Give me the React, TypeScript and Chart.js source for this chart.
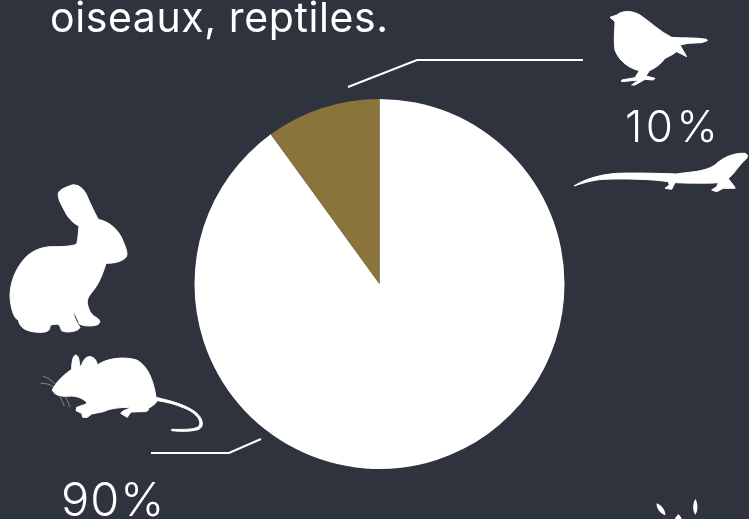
import React, { useEffect, useRef } from "react";
import { Chart, registerables } from "chart.js";

Chart.register(...registerables);

const categories = ["Mammifères", "Oiseaux, reptiles"];
const shares = [90, 10];
const sliceColors = ["#ffffff", "#8b733c"];
const heading = "oiseaux, reptiles.";
const background = "#2e333d";

const rabbit = "M175 70C180 55 205 50 215 45C235 42 250 55 260 75C270 100 285 130 295 148C325 155 355 175 370 215C378 235 385 250 378 262C365 275 345 280 318 280C312 300 300 335 285 355C270 375 258 385 263 405C268 425 275 435 290 443C302 450 303 460 290 465C270 470 250 468 238 462C232 445 225 430 220 425C222 445 232 460 240 472C235 485 200 490 185 482C180 470 178 465 175 463C160 462 150 465 150 470C150 482 140 488 115 487C85 485 60 478 55 450C40 445 32 410 30 380C30 340 45 300 70 270C90 245 120 232 150 230C180 230 215 230 230 222C235 205 235 185 237 168C220 160 205 145 195 125C185 105 172 85 175 70Z";
const mouse = "M157 660C165 640 190 615 215 598C215 580 218 555 228 555C238 558 238 580 240 590C248 585 248 565 265 560C280 558 290 570 292 585C320 565 370 558 410 570C440 585 460 625 468 682C500 690 550 700 585 725C612 745 615 775 590 780C570 785 540 785 515 782L515 778C545 778 580 780 595 770C608 755 590 730 555 715C525 702 495 695 472 692C465 705 450 712 445 715C448 722 440 726 425 725L395 726L388 732L382 742L375 738L362 730L370 722C385 718 390 712 385 712C360 712 330 715 310 725L275 732L262 742L248 742L245 730L228 722L230 712L250 705L262 700C250 685 235 680 215 678C190 680 165 680 157 660Z";
const whiskers = "M165 642C155 630 140 622 128 618M160 650C150 642 135 640 122 640M180 680C185 690 190 700 193 708M195 680C202 690 206 700 210 712";
const bird = "M150 52L170 45C185 32 215 30 240 45C270 65 300 95 335 112C370 115 410 112 440 118L442 122L425 128L385 130L360 135L380 170L350 155L335 165L315 175C300 195 285 205 268 212L258 228L285 235L280 240L255 238L225 255L215 255L235 240L185 245L185 240L225 233L238 212C205 205 175 180 165 150C160 120 165 90 165 65Z";
const lizard = "M42 558C70 540 110 525 170 520C220 518 300 520 350 522C385 515 430 518 465 495C490 470 525 458 555 460C568 465 562 475 550 485C530 505 520 525 505 535C510 545 528 562 525 565L490 565L470 575L455 570L470 560L475 548C450 550 400 550 345 548L335 568L315 565L328 555L325 545C280 538 200 535 130 538C100 540 65 550 42 558Z";
const leaves = "M110 70C125 75 137 92 136 106C122 102 108 85 110 70ZM226 57C233 68 236 90 226 104C216 90 219 68 226 57ZM175 102C181 108 184 113 185 117L164 117C166 113 170 108 175 102Z";

const FONT = "Inter, sans-serif";

const decorations = {
  id: "decorations",
  beforeDraw(chart: any) {
    const c = chart.ctx;
    c.save();
    c.fillStyle = background;
    c.fillRect(0, 0, chart.width, chart.height);
    c.restore();
  },
  afterDraw(chart: any) {
    const c = chart.ctx;
    c.save();
    c.fillStyle = "#ffffff";
    c.strokeStyle = "#ffffff";

    c.textBaseline = "alphabetic";
    c.textAlign = "left";
    c.font = `400 41px ${FONT}`;
    c.letterSpacing = "0.6px";
    c.fillText(heading, 50, 32);
    c.font = `300 44px ${FONT}`;
    c.letterSpacing = "3.5px";
    c.fillText(`${shares[1]}%`, 625, 142);
    c.font = `300 47px ${FONT}`;
    c.letterSpacing = "1px";
    c.fillText(`${shares[0]}%`, 61, 516);
    c.letterSpacing = "0px";

    c.lineWidth = 2;
    c.lineJoin = "miter";
    c.beginPath();
    c.moveTo(348, 87);
    c.lineTo(417, 60);
    c.lineTo(583, 60);
    c.stroke();
    c.beginPath();
    c.moveTo(151, 453);
    c.lineTo(229, 453);
    c.lineTo(261, 439);
    c.stroke();

    const shape = (path: string, x: number, y: number, grow: number) => {
      c.save();
      c.translate(x, y);
      c.scale(1 / 3, 1 / 3);
      const p = new Path2D(path);
      c.fill(p);
      if (grow > 0) {
        c.lineWidth = grow;
        c.lineJoin = "round";
        c.stroke(p);
      }
      c.restore();
    };
    shape(rabbit, 0, 170, 3);
    shape(mouse, 0, 170, 3);
    shape(bird, 560, 0, 3);
    shape(lizard, 560, 0, 3);
    shape(leaves, 620, 480, 0);

    c.save();
    c.translate(0, 170);
    c.scale(1 / 3, 1 / 3);
    c.globalAlpha = 0.6;
    c.lineWidth = 2;
    c.stroke(new Path2D(whiskers));
    c.restore();

    c.restore();
  },
};

export default function App() {
  const ref = useRef<HTMLCanvasElement>(null);
  useEffect(() => {
    document.body.style.margin = "0";
    document.body.style.background = background;
    const chart = new Chart(ref.current!, {
      type: "pie",
      data: {
        labels: categories,
        datasets: [{ data: shares, backgroundColor: sliceColors, borderWidth: 0 }],
      },
      options: {
        animation: false,
        responsive: false,
        layout: { padding: { left: 194, right: 184, top: 99, bottom: 50 } },
        plugins: { legend: { display: false }, tooltip: { enabled: false } },
      },
      plugins: [decorations],
    } as any);
    return () => chart.destroy();
  }, []);
  return <canvas ref={ref} width={749} height={519} style={{ display: "block" }} />;
}
